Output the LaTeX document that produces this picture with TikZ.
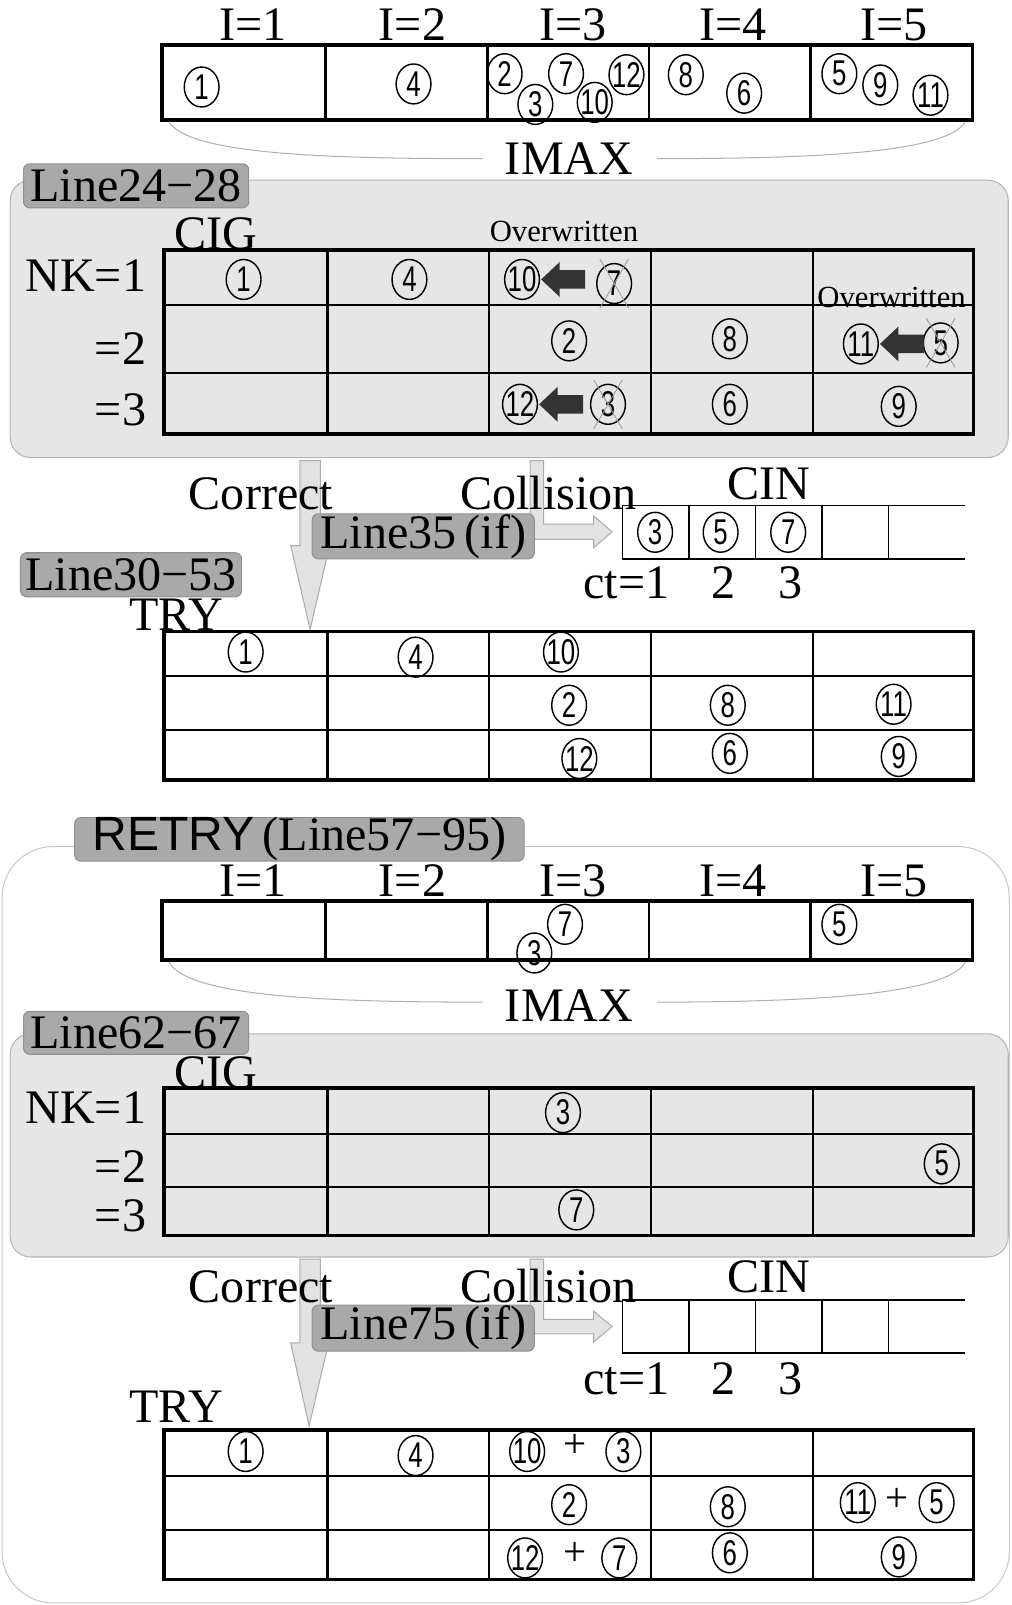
\documentclass[tikz,border=0pt]{standalone}
\usepackage{fontspec}
\setmainfont{Liberation Serif}
\setsansfont{Liberation Sans}
\newfontfamily\numfont[FakeStretch=0.72]{Liberation Sans}
\usetikzlibrary{shapes.geometric,calc}
\definecolor{panelgray}{HTML}{E6E6E6}
\definecolor{panelborder}{HTML}{B4B4B4}
\definecolor{taggray}{HTML}{A9A9A9}
\definecolor{tagborder}{HTML}{8F8F8F}
\definecolor{arrowgray}{HTML}{E2E2E2}
\definecolor{arrowborder}{HTML}{ABABAB}
\definecolor{blkgray}{HTML}{333333}
\definecolor{xgray}{HTML}{9A9A9A}
\definecolor{bracegray}{HTML}{B0B0B0}
\definecolor{retryborder}{HTML}{C8C8C8}
\newcommand\blkarr[1]{\fill[blkgray] ($(#1.east)+(1,0)$) -- ++(18,-17) -- ++(0,8) -- ++(25,0) -- ++(0,18) -- ++(-25,0) -- ++(0,8) -- cycle;}
\newcommand\crossout[1]{\draw[xline] ($(#1.center)+(-14,-24)$) -- ($(#1.center)+(14,24)$);
  \draw[xline] ($(#1.center)+(14,-24)$) -- ($(#1.center)+(-14,24)$);}
\begin{document}
\begin{tikzpicture}[x=1pt,y=-1pt,
  txt/.style={font=\fontsize{47}{47}\selectfont, inner sep=0pt, anchor=base},
  small/.style={font=\fontsize{30}{30}\selectfont, inner sep=0pt, anchor=base},
  num/.style={ellipse, draw, line width=1.4pt, minimum width=34pt, minimum height=39pt, inner sep=-6pt, font=\numfont\fontsize{35}{35}\selectfont},
  plus/.style={font=\fontsize{40}{40}\selectfont, inner sep=0pt},
  panel/.style={fill=panelgray, draw=panelborder, line width=1pt, rounded corners=20pt},
  tag/.style={fill=taggray, draw=tagborder, line width=1pt, rounded corners=6pt, inner sep=0pt, font=\fontsize{47}{47}\selectfont},
  outer/.style={line width=3.5pt},
  inner/.style={line width=2pt},
  xline/.style={draw=xgray, line width=0.8pt},
  garrow/.style={fill=arrowgray, draw=arrowborder, line width=1pt},
  brace/.style={draw=bracegray, line width=1pt},
  cin/.style={line width=1.5pt}
]
\useasboundingbox (0,0) rectangle (988,1568);

% ================= Section 1 =================
\foreach \x/\t in {247/1,403/2,560/3,716/4,873/5} \node[txt] (ia\t) at (\x,40) {I=\t};
\draw[outer] (158,44) rectangle (950,117);
\foreach \x in {318,476,634,792} \draw[line width=2.5pt] (\x,44) -- (\x,117);
\node[num] (a1) at (197,85) {1};
\node[num] (a4) at (404,82) {4};
\node[num] (a2) at (493,72) {2};
\node[num] (a7) at (553,72) {7};
\node[num] (a12) at (612,73) {12};
\node[num] (a3) at (523,102) {3};
\node[num] (a10) at (581,100) {10};
\node[num] (a8) at (670,73) {8};
\node[num] (a6) at (727,91) {6};
\node[num] (a5) at (820,72) {5};
\node[num] (a9) at (860,83) {9};
\node[num] (a11) at (909,93) {11};
\node[txt] (imaxa) at (556,170) {IMAX};
\draw[brace] (165,119) .. controls (185,152) and (330,155) .. (472,155);
\draw[brace] (642,155) .. controls (790,155) and (925,150) .. (943,119);

% ================= Section 2 =================
\draw[panel] (10,176) rectangle (985,447);
\node[tag, minimum width=220pt, minimum height=43pt] (tagA) at (133,181.5) {Line24−28};
\node[txt] (ciga) at (211,244) {CIG};
\node[small] (owa) at (551,236) {Overwritten};
\foreach \y in {298,364} \draw[inner] (160,\y) -- (951,\y);
\foreach \x in {320,478,636,794} \draw[line width=2.3pt] (\x,244) -- (\x,424);
\draw[outer] (160,244) rectangle (951,424);
\node[small] (owb) at (871,300) {Overwritten};
\node[txt, anchor=base east] (nka) at (143,285) {NK=1};
\node[txt, anchor=base east] (nkb) at (143,356) {=2};
\node[txt, anchor=base east] (nkc) at (143,416) {=3};
\node[num] (b1) at (238,273) {1};
\node[num] (b4) at (400,273) {4};
\node[num] (b10) at (510,273) {10};
\node[num] (b7) at (600,277) {7};
\node[num] (b2) at (556,333) {2};
\node[num] (b8) at (713,331) {8};
\node[num] (b11) at (841,336) {11};
\node[num] (b5) at (919,335) {5};
\node[num] (b12) at (508,395) {12};
\node[num] (b3) at (594,395) {3};
\node[num] (b6) at (713,395) {6};
\node[num] (b9) at (878,397) {9};
\crossout{b7}\crossout{b5}\crossout{b3}
\blkarr{b10}\blkarr{b11}\blkarr{b12}

% ================= Section 3 =================
\path[garrow] (293,450) -- (293,533) -- (284,533) -- (303,615) -- (322,533) -- (313,533) -- (313,450) -- cycle;
\path[garrow] (518,450) -- (518,527) -- (580,527) -- (580,535) -- (598,519.5) -- (580,504) -- (580,512) -- (531,512) -- (531,450) -- cycle;
\node[txt] (corra) at (255,498) {Correct};
\node[txt] (colla) at (536,498) {Collision};
\node[txt] (cina) at (751,488) {CIN};
\node[tag, minimum width=217pt, minimum height=44pt] (tagB) at (413.5,524) {Line35\,(if)};
\draw[cin] (608,494) -- (943,494);
\draw[cin] (608,546) -- (943,546);
\foreach \x in {608,673,738,803,868} \draw[cin] (\x,494) -- (\x,546);
\node[num] (d3) at (640,520) {3};
\node[num] (d5) at (704,520) {5};
\node[num] (d7) at (770,520) {7};
\node[txt] (cta) at (612,585) {ct=1};
\node[txt] (ctb) at (707,585) {2};
\node[txt] (ctc) at (772,585) {3};
\node[txt] (trya) at (172,616) {TRY};
\node[tag, minimum width=216pt, minimum height=43pt] (tagC) at (128,561.5) {Line30−53};
\foreach \y in {660,713} \draw[inner] (160,\y) -- (951,\y);
\foreach \x in {320,478,636,794} \draw[line width=2.3pt] (\x,617) -- (\x,762);
\draw[outer] (160,617) rectangle (951,762);
\node[num] (e1) at (240,637) {1};
\node[num] (e4) at (406,642) {4};
\node[num] (e10) at (548,637) {10};
\node[num] (e2) at (556,689) {2};
\node[num] (e8) at (711,689) {8};
\node[num] (e11) at (873,688) {11};
\node[num] (e12) at (566,741) {12};
\node[num] (e6) at (713,736) {6};
\node[num] (e9) at (878,739) {9};

% ================= Section 4: RETRY =================
\draw[draw=retryborder, line width=1pt, rounded corners=50pt] (2,827) rectangle (986,1566);
\node[tag, minimum width=439pt, minimum height=40pt] (tagD) at (292.5,820) {{\sffamily RETRY}\,(Line57−95)};
\foreach \x/\t in {247/1,403/2,560/3,716/4,873/5} \node[txt] (ib\t) at (\x,876) {I=\t};
\draw[outer] (158,880) rectangle (950,938);
\foreach \x in {318,476,634,792} \draw[line width=2.5pt] (\x,880) -- (\x,938);
\node[num] (f7) at (552,903) {7};
\node[num] (f3) at (522,931) {3};
\node[num] (f5) at (820,903) {5};
\node[txt] (imaxb) at (556,998) {IMAX};
\draw[brace] (165,940) .. controls (185,975) and (330,979) .. (472,979);
\draw[brace] (642,979) .. controls (790,979) and (925,972) .. (943,940);

\draw[panel] (10,1010) rectangle (985,1228);
\node[txt] (cigb) at (211,1063) {CIG};
\node[tag, minimum width=220pt, minimum height=42pt] (tagE) at (133,1009) {Line62−67};
\foreach \y in {1108,1160} \draw[inner] (160,\y) -- (951,\y);
\foreach \x in {320,478,636,794} \draw[line width=2.3pt] (\x,1063) -- (\x,1207);
\draw[outer] (160,1063) rectangle (951,1207);
\node[txt, anchor=base east] (nkd) at (143,1098) {NK=1};
\node[txt, anchor=base east] (nke) at (143,1155) {=2};
\node[txt, anchor=base east] (nkf) at (143,1203) {=3};
\node[num] (g3) at (550,1087) {3};
\node[num] (g5) at (920,1137) {5};
\node[num] (g7) at (563,1182) {7};

\path[garrow] (293,1230) -- (293,1312) -- (284,1312) -- (302,1393) -- (321,1312) -- (313,1312) -- (313,1230) -- cycle;
\path[garrow] (518,1230) -- (518,1303) -- (580,1303) -- (580,1311) -- (598,1296) -- (580,1281) -- (580,1289) -- (531,1289) -- (531,1230) -- cycle;
\node[txt] (corrb) at (255,1272) {Correct};
\node[txt] (collb) at (536,1272) {Collision};
\node[txt] (cinb) at (751,1263) {CIN};
\node[tag, minimum width=217pt, minimum height=45pt] (tagF) at (413.5,1297.5) {Line75\,(if)};
\draw[cin] (608,1270) -- (943,1270);
\draw[cin] (608,1322) -- (943,1322);
\foreach \x in {608,673,738,803,868} \draw[cin] (\x,1270) -- (\x,1322);
\node[txt] (ctd) at (612,1362) {ct=1};
\node[txt] (cte) at (707,1362) {2};
\node[txt] (ctf) at (772,1362) {3};
\node[txt] (tryb) at (172,1390) {TRY};
\foreach \y in {1442,1495} \draw[inner] (160,\y) -- (951,\y);
\foreach \x in {320,478,636,794} \draw[line width=2.3pt] (\x,1397) -- (\x,1543);
\draw[outer] (160,1397) rectangle (951,1543);
\node[num] (h1) at (240,1418) {1};
\node[num] (h4) at (406,1422) {4};
\node[num] (h10) at (515,1418) {10};
\node[plus] (hp1) at (562,1413) {+};
\node[num] (h3) at (609,1418) {3};
\node[num] (h2) at (556,1470) {2};
\node[num] (h8) at (711,1472) {8};
\node[num] (h11) at (838,1468) {11};
\node[plus] (hp2) at (876,1465) {+};
\node[num] (h5) at (915,1468) {5};
\node[num] (h12) at (513,1522) {12};
\node[plus] (hp3) at (562,1518) {+};
\node[num] (h7) at (605,1522) {7};
\node[num] (h6) at (713,1517) {6};
\node[num] (h9) at (878,1521) {9};
\end{tikzpicture}
\end{document}
